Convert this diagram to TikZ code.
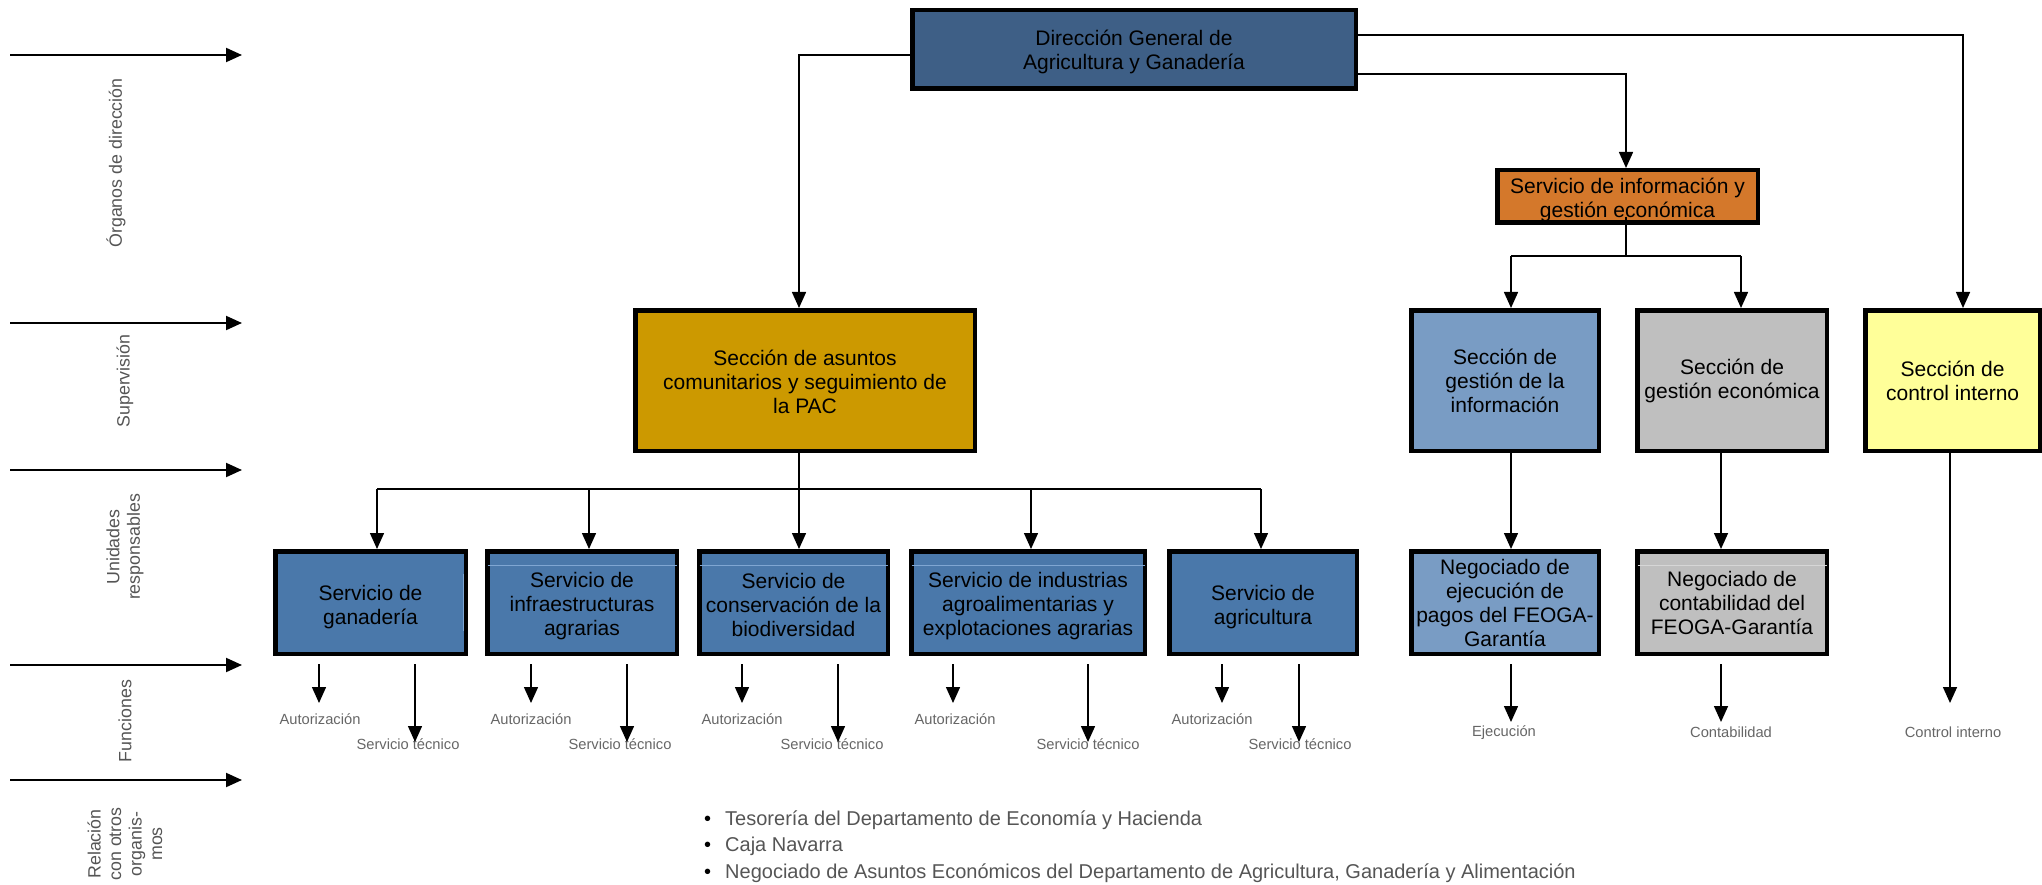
\documentclass[tikz,border=0pt]{standalone}
\usepackage{fontspec}
\setmainfont{Liberation Sans}
\usetikzlibrary{arrows.meta}
\definecolor{cDir}{HTML}{3E5F86}
\definecolor{cInfo}{HTML}{D4782B}
\definecolor{cAsu}{HTML}{CC9900}
\definecolor{cServ}{HTML}{4A78AA}
\definecolor{cServLine}{HTML}{7FA6D2}
\definecolor{cLight}{HTML}{799CC4}
\definecolor{cGray}{HTML}{BFBFBF}
\definecolor{cGrayLine}{HTML}{D6D6D6}
\definecolor{cYel}{HTML}{FFFF99}
\definecolor{cLab}{HTML}{555555}
\definecolor{cFn}{HTML}{666666}
\newcommand\mybox[8]{%
  \node[box,fill=#6,minimum width=#4,minimum height=#5] (#1) at (#2,#3) {};
  \node[boxtxt] (#1-t) at ([yshift=-#7pt]#1.center) {#8};}
\begin{document}
\begin{tikzpicture}[x=1pt,y=-1pt,
  box/.style={draw=black,line width=4.5pt,inner sep=0pt},
  boxtxt/.style={align=center,inner sep=0pt,font=\fontsize{21}{24}\selectfont,text=black},
  ln/.style={line width=1.5pt},
  arr/.style={line width=1.5pt,-{Triangle[width=14pt,length=16pt]}},
  larr/.style={line width=2pt,-{Triangle[width=14pt,length=16pt]}},
  side/.style={rotate=90,align=center,text=cLab,inner sep=0pt,
    font=\fontsize{17.8}{20.5}\selectfont},
  fn/.style={text=cFn,inner sep=0pt,font=\fontsize{14.7}{16}\selectfont},
  bul/.style={text=cLab,inner sep=0pt,anchor=west,font=\fontsize{20}{24}\selectfont}
]
\useasboundingbox (0,0) rectangle (2042,885);

% left guide arrows
\foreach \y [count=\i] in {55,323,470,665,780} {
  \coordinate (La\i) at (10,\y);
  \coordinate (Lb\i) at (242,\y);
  \draw[larr] (La\i) -- (Lb\i);
}
\node[side] (s1) at (116,163) {Órganos de dirección};
\node[side] (s2) at (125,381) {Supervisión};
\node[side] (s3) at (125,547) {Unidades\\responsables};
\node[side] (s4) at (125,721) {Funciones};
\node[side] (s5) at (125,844) {Relación\\con otros\\organis-\\mos};

% boxes
\mybox{dir}{1134}{49.5}{443.5}{78.5}{cDir}{2.6}{Dirección General de\\Agricultura y Ganadería}
\mybox{info}{1627.5}{196.5}{260.5}{52.5}{cInfo}{3.8}{Servicio de información y\\gestión económica}
\mybox{asuntos}{805}{380.5}{339.5}{140.5}{cAsu}{1}{Sección de asuntos\\comunitarios y seguimiento de\\la PAC}
\mybox{gestinfo}{1505}{380.5}{187.5}{140.5}{cLight}{0.5}{Sección de\\gestión de la\\información}
\mybox{gestecon}{1732}{380.5}{189.5}{140.5}{cGray}{0.5}{Sección de\\gestión económica}
\mybox{control}{1952.6}{380.5}{174.75}{140.5}{cYel}{0.5}{Sección de\\control interno}

\mybox{ganaderia}{370.5}{602.5}{190.5}{102.5}{cServ}{4.5}{Servicio de\\ganadería}
\mybox{infra}{582}{602.5}{189.5}{102.5}{cServ}{3.8}{Servicio de\\infraestructuras\\agrarias}
\mybox{conserv}{793.5}{602.5}{188.5}{102.5}{cServ}{2.6}{Servicio de\\conservación de la\\biodiversidad}
\mybox{industrias}{1028}{602.5}{233.5}{102.5}{cServ}{4}{Servicio de industrias\\agroalimentarias y\\explotaciones agrarias}
\mybox{agricultura}{1263}{602.5}{187.5}{102.5}{cServ}{4.5}{Servicio de\\agricultura}
\mybox{negejec}{1505}{602.5}{187.5}{102.5}{cLight}{0.5}{Negociado de\\ejecución de\\pagos del FEOGA-\\Garantía}
\mybox{negcont}{1732}{602.5}{189.5}{102.5}{cGray}{0.5}{Negociado de\\contabilidad del\\FEOGA-Garantía}

% faint inner lines seen inside some boxes
\draw[cServLine,line width=0.8pt] ([xshift=2.5pt,yshift=-16pt]infra.north west) -- ([xshift=-2.5pt,yshift=-16pt]infra.north east);
\draw[cServLine,line width=0.8pt] ([xshift=2.5pt,yshift=-16pt]conserv.north west) -- ([xshift=-2.5pt,yshift=-16pt]conserv.north east);
\draw[cServLine,line width=0.8pt] ([xshift=2.5pt,yshift=-16pt]industrias.north west) -- ([xshift=-2.5pt,yshift=-16pt]industrias.north east);
\draw[cServLine,line width=0.8pt] ([xshift=-5pt,yshift=-25pt]ganaderia.north east) -- ([xshift=-5pt,yshift=25pt]ganaderia.south east);
\draw[cGrayLine,line width=0.8pt] ([xshift=2.5pt,yshift=-16pt]negcont.north west) -- ([xshift=-2.5pt,yshift=-16pt]negcont.north east);

% connectors from the direction
\coordinate (p1) at (799,55);
\draw[arr] (dir.west |- p1) -- (p1) -- (p1 |- asuntos.north);
\coordinate (p2) at (1963,35);
\draw[arr] (dir.east |- p2) -- (p2) -- (p2 |- control.north);
\coordinate (p3) at (1626,74);
\draw[arr] (dir.east |- p3) -- (p3) -- (p3 |- info.north);

% info to sections
\coordinate (p4) at (1626,256);
\coordinate (p4s) at (1626,217);
\coordinate (p5) at (1511,256);
\coordinate (p6) at (1741,256);
\draw[ln] (p4s) -- (p4);
\draw[ln] (p5) -- (p6);
\draw[arr] (p5) -- (p5 |- gestinfo.north);
\draw[arr] (p6) -- (p6 |- gestecon.north);

% asuntos to services
\coordinate (q0) at (799,489);
\draw[ln] (asuntos.south -| q0) -- (q0);
\coordinate (q1) at (377,489);
\coordinate (q2) at (589,489);
\coordinate (q3) at (799,489);
\coordinate (q4) at (1031,489);
\coordinate (q5) at (1261,489);
\draw[ln] (q1) -- (q5);
\draw[arr] (q1) -- (q1 |- ganaderia.north);
\draw[arr] (q2) -- (q2 |- infra.north);
\draw[arr] (q3) -- (q3 |- conserv.north);
\draw[arr] (q4) -- (q4 |- industrias.north);
\draw[arr] (q5) -- (q5 |- agricultura.north);

% sections to negociados
\coordinate (r1) at (1511,0);
\coordinate (r2) at (1721,0);
\draw[arr] (gestinfo.south -| r1) -- (negejec.north -| r1);
\draw[arr] (gestecon.south -| r2) -- (negcont.north -| r2);

% functions of services
\foreach \b/\xs/\xl/\ls/\ll in {ganaderia/319/415/320/408, infra/531/627/531/620,
    conserv/742/838/742/832, industrias/953/1088/955/1088, agricultura/1222/1299/1212/1300} {
  \node[fn] (\b-aut) at (\ls,719) {Autorización};
  \node[fn] (\b-tec) at (\ll,744) {Servicio técnico};
  \coordinate (\b-s0) at (\xs,664);
  \coordinate (\b-s) at (\xs,703);
  \coordinate (\b-l0) at (\xl,664);
  \coordinate (\b-l) at (\xl,742);
  \draw[arr] (\b-s0) -- (\b-s);
  \draw[arr] (\b-l0) -- (\b-l);
}

% functions of right units
\node[fn] (ejec) at (1504,733) {Ejecución};
\node[fn] (conta) at (1731,732) {Contabilidad};
\node[fn] (cint) at (1953,732) {Control interno};
\coordinate (e0) at (1511,664);
\coordinate (e1) at (1511,722);
\coordinate (c0) at (1721,664);
\coordinate (c1) at (1721,722);
\coordinate (k1) at (1950,703);
\draw[arr] (e0) -- (e1);
\draw[arr] (c0) -- (c1);
\draw[arr] (control.south -| k1) -- (k1);

% relations
\node[bul] (t1) at (704,820.5) {\textcolor{black}{\textbullet}\hspace{14pt}Tesorería del Departamento de Economía y Hacienda};
\node[bul] (t2) at (704,846.5) {\textcolor{black}{\textbullet}\hspace{14pt}Caja Navarra};
\node[bul] (t3) at (704,873.5) {\textcolor{black}{\textbullet}\hspace{14pt}Negociado de Asuntos Económicos del Departamento de Agricultura, Ganadería y Alimentación};
\end{tikzpicture}
\end{document}
